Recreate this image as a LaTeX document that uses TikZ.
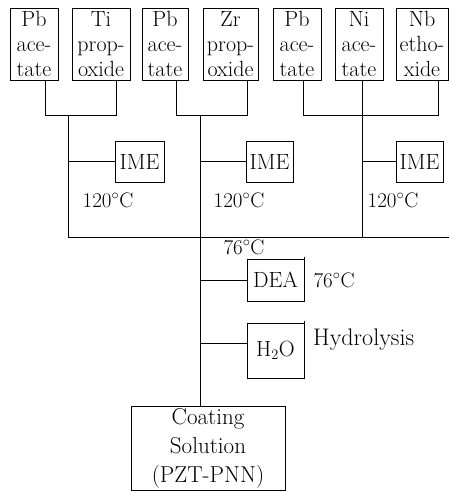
\documentclass[tikz,border=0pt]{standalone}
\usepackage{fontspec}
\usetikzlibrary{positioning}

\begin{document}
\begin{tikzpicture}[x=1pt,y=-1pt,
  chem/.style={draw,line width=0.9pt,minimum height=72pt,inner sep=0pt,align=center,font=\fontsize{22}{25}\selectfont},
  agent/.style={draw,line width=0.8pt,inner sep=0pt,font=\fontsize{22}{25}\selectfont},
  temp/.style={inner sep=0pt,font=\fontsize{21}{25}\selectfont},
  flow/.style={line width=0.7pt}]
\useasboundingbox (0,0) rectangle (449,492);
% starting chemicals
\node[chem,minimum width=48pt] (pbA) at (34,44) {Pb\\ace-\\tate};
\node[chem,minimum width=58pt] (ti) at (101,44) {Ti\\prop-\\oxide};
\node[chem,minimum width=46pt] (pbB) at (165,44) {Pb\\ace-\\tate};
\node[chem,minimum width=55pt] (zr) at (230.5,44) {Zr\\prop-\\oxide};
\node[chem,minimum width=48pt] (pbC) at (297,44) {Pb\\ace-\\tate};
\node[chem,minimum width=48pt] (ni) at (359,44) {Ni\\ace-\\tate};
\node[chem,minimum width=52pt] (nb) at (422,44) {Nb\\etho-\\xide};
% joints
\coordinate (jA) at (68,115);
\coordinate (jB) at (200,115);
\coordinate (bA) at (68,237);
\coordinate (bC) at (362,237);
\coordinate (bR) at (449,237);
% solvent steps
\node[agent,minimum width=49pt,minimum height=41pt] (imeA) at (139.5,161.5) {IME};
\node[agent,minimum width=47pt,minimum height=41pt] (imeB) at (269.5,161.5) {IME};
\node[agent,minimum width=47pt,minimum height=41pt] (imeC) at (419.5,161.5) {IME};
\node[temp] (tA) at (108,200) {120$^{\circ}$C};
\node[temp] (tB) at (239,200) {120$^{\circ}$C};
\node[temp] (tC) at (393,200) {120$^{\circ}$C};
\node[temp] (tD) at (244,247) {76$^{\circ}$C};
\node[agent,minimum width=57pt,minimum height=42pt] (dea) at (275.5,280) {DEA};
\node[temp,right=9pt of dea] (tE) {76$^{\circ}$C};
\node[agent,minimum width=57pt,minimum height=55pt] (water) at (275.5,350.5) {H$_2$O};
\node[temp,anchor=west,font=\fontsize{24}{28}\selectfont] (hyd) at (313,340) {Hydrolysis};
\node[draw,line width=0.8pt,minimum width=154pt,minimum height=84pt,inner sep=0pt,align=center,
  font=\fontsize{23}{29}\selectfont] (coat) at (208,448) {Coating\\Solution\\(PZT-PNN)};
% connectors
\draw[flow] ([xshift=11pt]pbA.south) -- ++(0,35) -| ([xshift=15pt]ti.south);
\draw[flow] ([xshift=11pt]pbB.south) -- ++(0,35) -| ([xshift=16.5pt]zr.south);
\draw[flow] ([xshift=6pt]pbC.south) -- ++(0,35) -| ([xshift=16pt]nb.south);
\draw[flow] (jA) -- (bA) -- (bR);
\draw[flow] ([xshift=3pt]ni.south) -- (bC);
\draw[flow] (jB) -- (coat.north -| jB);
\draw[flow] (imeA.west -| jA) -- (imeA.west);
\draw[flow] (imeB.west -| jB) -- (imeB.west);
\draw[flow] (imeC.west -| bC) -- (imeC.west);
\draw[flow] (dea.west -| jB) -- (dea.west);
\draw[flow] ([yshift=7pt]water.west -| jB) -- ([yshift=7pt]water.west);
\draw[line width=1.6pt] ([yshift=2pt]dea.north east) -- ([yshift=-1pt]dea.south east);
\draw[line width=1.6pt] ([yshift=2pt]water.north east) -- ([yshift=-1pt]water.south east);
\end{tikzpicture}
\end{document}
